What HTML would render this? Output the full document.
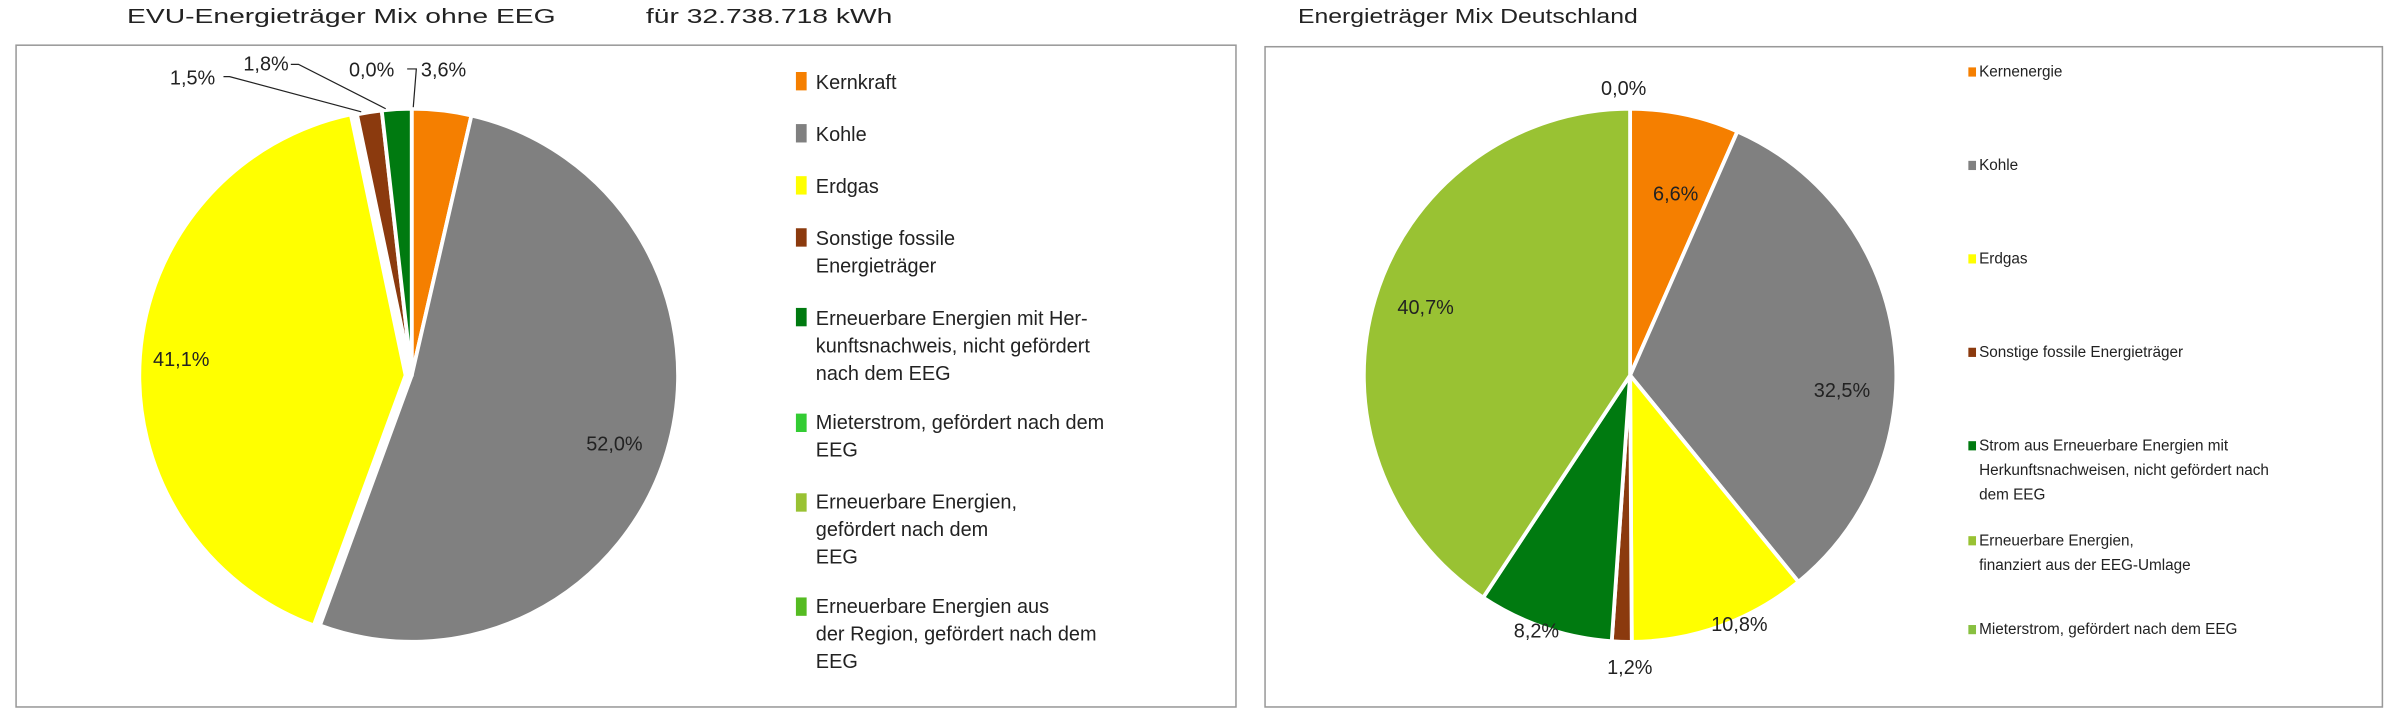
<!DOCTYPE html>
<html><head><meta charset="utf-8"><style>
html,body{margin:0;padding:0;background:#fff;}
svg{display:block;}
text{font-family:"Liberation Sans",sans-serif;fill:#222;}
</style></head><body>
<svg width="2400" height="720" viewBox="0 0 1568 470" preserveAspectRatio="none" xmlns="http://www.w3.org/2000/svg">
<rect x="0" y="0" width="1568" height="470" fill="#fff"/>
<!-- titles -->
<text x="83" y="15" font-size="13" textLength="280" lengthAdjust="spacingAndGlyphs">EVU-Energieträger Mix ohne EEG</text>
<text x="422" y="15" font-size="13" textLength="161" lengthAdjust="spacingAndGlyphs">für 32.738.718 kWh</text>
<text x="848" y="15" font-size="13" textLength="222" lengthAdjust="spacingAndGlyphs">Energieträger Mix Deutschland</text>
<!-- boxes -->
<rect x="10.5" y="29.5" width="797" height="432" fill="none" stroke="#999" stroke-width="1"/>
<rect x="826.5" y="30.5" width="730" height="431" fill="none" stroke="#999" stroke-width="1"/>

<!-- left pie -->
<g stroke="#fff" stroke-width="2.5" stroke-linejoin="round">
<path d="M269,245 L269,71 A174,174 0 0 1 308.0,75.4 Z" fill="#F57F00"/>
<path d="M269,245 L308.0,75.4 A174,174 0 1 1 209.0,408.3 Z" fill="#808080"/>
<path d="M265,245 L205.0,408.3 A174,174 0 0 1 229.2,74.7 Z" fill="#FFFF00"/>
<path d="M269,245 L233.2,74.7 A174,174 0 0 1 249.4,72.1 Z" fill="#8B3A0E"/>
<path d="M269,245 L249.4,72.1 A174,174 0 0 1 269,71 Z" fill="#007A10"/>
</g>
<g stroke="#222" stroke-width="0.8" fill="none">
<polyline points="266,45 272,45 270,70"/>
<polyline points="190,42 195,42 252,71"/>
<polyline points="146,50 150,50 236,73"/>
</g>
<g font-size="13">
<text x="275" y="50">3,6%</text>
<text x="228" y="50">0,0%</text>
<text x="159" y="46">1,8%</text>
<text x="111" y="55">1,5%</text>
<text x="100" y="239">41,1%</text>
<text x="383" y="294">52,0%</text>
</g>
<!-- left legend -->
<g>
<rect x="520" y="47" width="7" height="12" fill="#F57F00"/>
<rect x="520" y="81" width="7" height="12" fill="#808080"/>
<rect x="520" y="115" width="7" height="12" fill="#FFFF00"/>
<rect x="520" y="149" width="7" height="12" fill="#8B3A0E"/>
<rect x="520" y="201" width="7" height="12" fill="#007A10"/>
<rect x="520" y="270" width="7" height="12" fill="#33CC33"/>
<rect x="520" y="322" width="7" height="12" fill="#99C233"/>
<rect x="520" y="390" width="7" height="12" fill="#55BB22"/>
</g>
<g font-size="13">
<text x="533" y="58">Kernkraft</text>
<text x="533" y="92">Kohle</text>
<text x="533" y="126">Erdgas</text>
<text x="533" y="160">Sonstige fossile</text>
<text x="533" y="178">Energieträger</text>
<text x="533" y="212">Erneuerbare Energien mit Her-</text>
<text x="533" y="230">kunftsnachweis, nicht gefördert</text>
<text x="533" y="248">nach dem EEG</text>
<text x="533" y="280">Mieterstrom, gefördert nach dem</text>
<text x="533" y="298">EEG</text>
<text x="533" y="332">Erneuerbare Energien,</text>
<text x="533" y="350">gefördert nach dem</text>
<text x="533" y="368">EEG</text>
<text x="533" y="400">Erneuerbare Energien aus</text>
<text x="533" y="418">der Region, gefördert nach dem</text>
<text x="533" y="436">EEG</text>
</g>

<!-- right pie -->
<g stroke="#fff" stroke-width="2.5" stroke-linejoin="round">
<path d="M1065,245 L1065,71 A174,174 0 0 1 1135.1,85.8 Z" fill="#F57F00"/>
<path d="M1065,245 L1135.1,85.8 A174,174 0 0 1 1175.0,379.8 Z" fill="#808080"/>
<path d="M1065,245 L1175.0,379.8 A174,174 0 0 1 1066.1,419.0 Z" fill="#FFFF00"/>
<path d="M1065,245 L1066.1,419.0 A174,174 0 0 1 1053.0,418.6 Z" fill="#8B3A0E"/>
<path d="M1065,245 L1053.0,418.6 A174,174 0 0 1 969.0,390.1 Z" fill="#007A10"/>
<path d="M1065,245 L969.0,390.1 A174,174 0 0 1 1065,71 Z" fill="#99C233"/>
</g>
<g font-size="13">
<text x="1046" y="62">0,0%</text>
<text x="1080" y="131">6,6%</text>
<text x="1185" y="259">32,5%</text>
<text x="1118" y="412">10,8%</text>
<text x="1050" y="440">1,2%</text>
<text x="989" y="416">8,2%</text>
<text x="913" y="205">40,7%</text>
</g>
<!-- right legend -->
<g>
<rect x="1286" y="44" width="5" height="6" fill="#F57F00"/>
<rect x="1286" y="105" width="5" height="6" fill="#808080"/>
<rect x="1286" y="166" width="5" height="6" fill="#FFFF00"/>
<rect x="1286" y="227" width="5" height="6" fill="#8B3A0E"/>
<rect x="1286" y="288" width="5" height="6" fill="#007A10"/>
<rect x="1286" y="350" width="5" height="6" fill="#99C233"/>
<rect x="1286" y="408" width="5" height="6" fill="#88C040"/>
</g>
<g font-size="10">
<text x="1293" y="50">Kernenergie</text>
<text x="1293" y="111">Kohle</text>
<text x="1293" y="172">Erdgas</text>
<text x="1293" y="233">Sonstige fossile Energieträger</text>
<text x="1293" y="294">Strom aus Erneuerbare Energien mit</text>
<text x="1293" y="310">Herkunftsnachweisen, nicht gefördert nach</text>
<text x="1293" y="326">dem EEG</text>
<text x="1293" y="356">Erneuerbare Energien,</text>
<text x="1293" y="372">finanziert aus der EEG-Umlage</text>
<text x="1293" y="414">Mieterstrom, gefördert nach dem EEG</text>
</g>
</svg>
</body></html>
